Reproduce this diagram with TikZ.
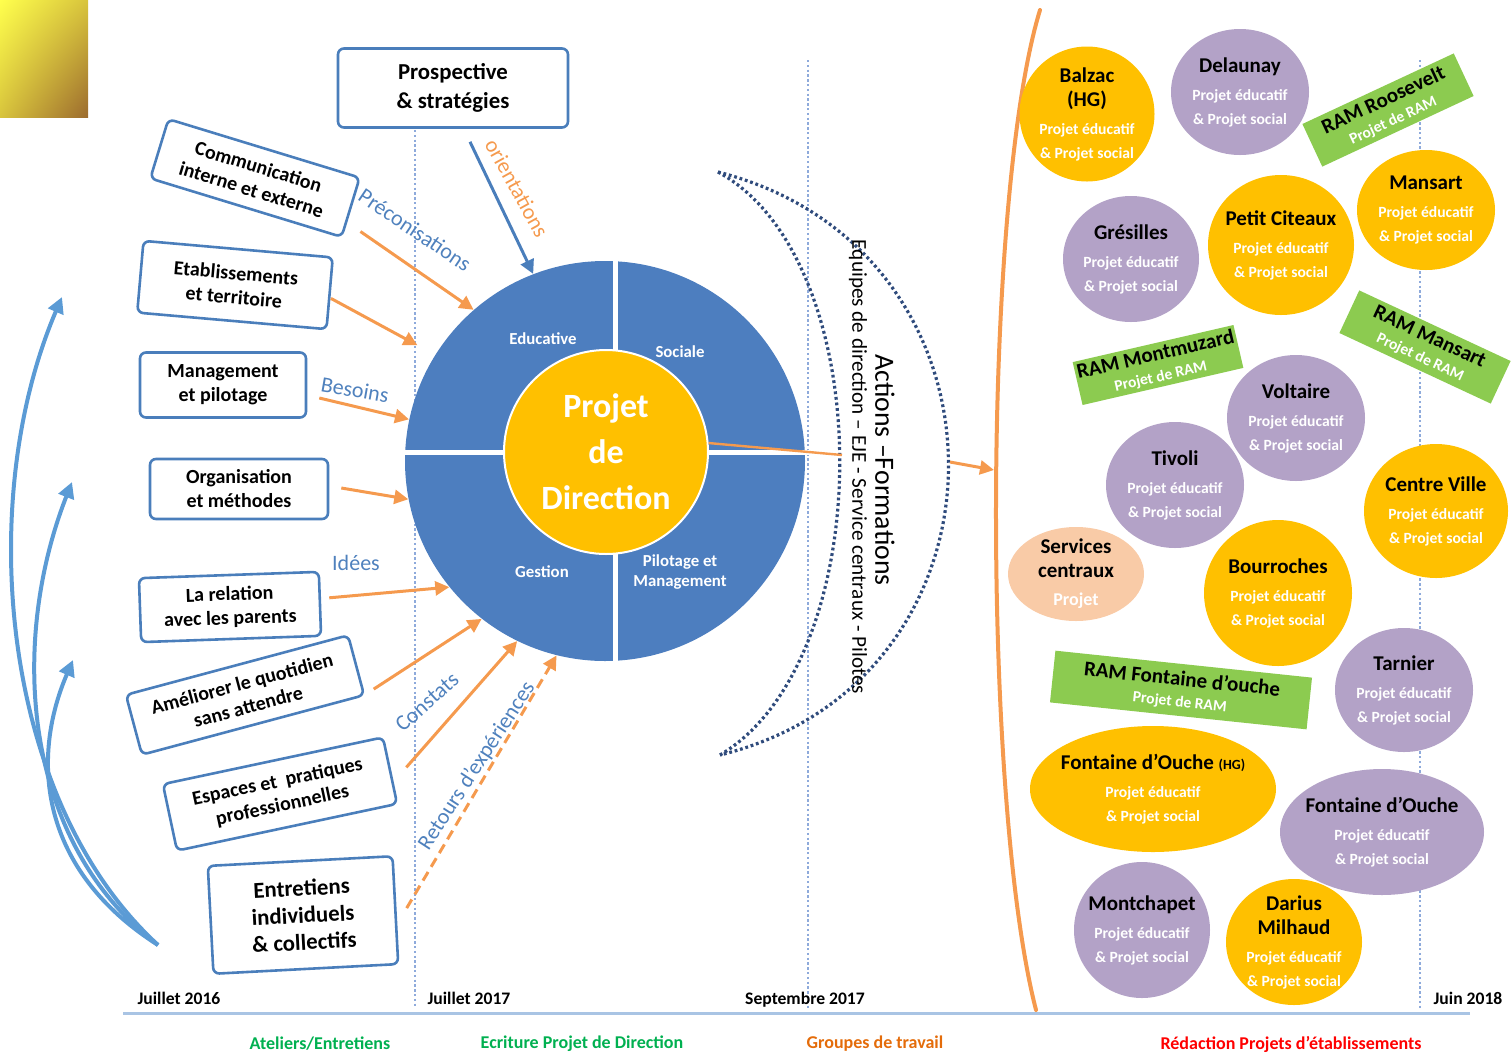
\documentclass[tikz,border=0pt]{standalone}
\usepackage{fontspec}
\setmainfont{Carlito}
\usepackage{xcolor}
\usepackage{tikz}
\usetikzlibrary{arrows.meta,shapes.geometric,shadings}

\definecolor{boxblue}{HTML}{4A7EBB}
\definecolor{discblue}{HTML}{4D7EBF}
\definecolor{coreyellow}{HTML}{FFC000}
\definecolor{lilac}{HTML}{B3A2C7}
\definecolor{peach}{HTML}{F9CBA7}
\definecolor{ramgreen}{HTML}{8CCB50}
\definecolor{floworange}{HTML}{F59A4E}
\definecolor{noteblue}{HTML}{4F81BD}
\definecolor{loopblue}{HTML}{5B9BD5}
\definecolor{guideblue}{HTML}{8EAADB}
\definecolor{arcnavy}{HTML}{2F4B7C}
\definecolor{tlblue}{HTML}{A9C4E4}
\definecolor{tlgreen}{HTML}{00B050}
\definecolor{tlorange}{HTML}{E46C0A}
\definecolor{tlred}{HTML}{FF0000}
\definecolor{cornerA}{HTML}{FFFF4D}
\definecolor{cornerB}{HTML}{D8C43C}
\definecolor{cornerC}{HTML}{9C6B2E}

\tikzset{
  theme/.style={draw=boxblue, line width=1.3pt, rounded corners=3pt, fill=white,
    align=center, inner sep=2pt, font=\bfseries\fontsize{10}{12}\selectfont},
  flow/.style={draw=floworange, line width=1.5pt, -{Triangle[length=7pt,width=7pt]}},
  note/.style={text=noteblue, font=\fontsize{11}{13}\selectfont},
  quarter/.style={text=white, align=center, font=\bfseries\fontsize{8.4}{10}\selectfont},
  site/.style={ellipse, inner sep=-8pt, align=center, font=\bfseries\fontsize{10.5}{12}\selectfont},
  ram/.style={fill=ramgreen, inner sep=0pt, align=center, font=\bfseries\fontsize{10.5}{10.5}\selectfont},
  loop/.style={draw=loopblue, line width=2pt, -{Triangle[length=8pt,width=8pt]}},
  guide/.style={draw=guideblue, line width=0.6pt, dash pattern=on 1.2pt off 1.2pt},
  arcdots/.style={draw=arcnavy, line width=1.6pt, dash pattern=on 1.4pt off 1.4pt},
  date/.style={anchor=base, font=\bfseries\fontsize{8.8}{10}\selectfont},
  phase/.style={font=\bfseries\fontsize{9}{11}\selectfont}
}

\newcommand{\pes}{\\[2pt]{\color{white}\fontsize{7.8}{12}\selectfont Projet éducatif}\\{\color{white}\fontsize{7.8}{12}\selectfont \& Projet social}}

\begin{document}
\begin{tikzpicture}[x=0.5pt, y=-0.5pt]
\useasboundingbox (0,0) rectangle (1511,1056);

% corner tile
\shade[upper left=cornerA, upper right=cornerB, lower left=cornerB, lower right=cornerC] (0,0) rectangle (88,117);

% time guides
\draw[guide] (415,130) -- (415,1008);
\draw[guide] (808,60) -- (808,1008);
\draw[guide] (1420,60) -- (1420,1008);

% themes
\node[theme, minimum width=115pt, minimum height=39.5pt, font=\bfseries\fontsize{11.4}{14.5}\selectfont] (prosp) at (453,88) {Prospective\\\& stratégies};
\node[theme, rotate=-17, minimum width=100pt, minimum height=31pt] (comm) at (255,178) {Communication\\interne et externe};
\node[theme, rotate=-5, minimum width=95pt, minimum height=36pt] (etab) at (235,285) {Etablissements\\et territoire};
\node[theme, minimum width=83pt, minimum height=32.5pt] (mgmt) at (223,385) {Management\\et pilotage};
\node[theme, minimum width=89pt, minimum height=30pt] (orga) at (239,489) {Organisation\\et méthodes};
\node[theme, rotate=2, minimum width=90pt, minimum height=32pt] (relation) at (230,607) {La relation\\avec les parents};
\node[theme, rotate=15, minimum width=115pt, minimum height=31pt] (amel) at (245,695) {Améliorer le quotidien\\sans attendre};
\node[theme, rotate=12, minimum width=112.5pt, minimum height=34pt] (espaces) at (280,794) {Espaces et~ pratiques\\professionnelles};
\node[theme, rotate=3, minimum width=92.5pt, minimum height=54pt, font=\bfseries\fontsize{11.4}{13.5}\selectfont] (entret) at (303,915) {Entretiens\\individuels\\\& collectifs};

% projet de direction
\node[circle, fill=discblue, minimum size=200pt, inner sep=0pt] (pd) at (605,461) {};
\draw[white, line width=2.5pt] ([xshift=5pt]pd.north) -- ([xshift=5pt]pd.south);
\draw[white, line width=2.5pt] (395,452) -- (815,452);
\node[circle, fill=coreyellow, draw=white, line width=1pt, minimum size=102pt, inner sep=0pt,
  text=white, align=center, font=\bfseries\fontsize{17}{23}\selectfont] (pdc) at (606,452) {Projet\\de\\Direction};
\node[quarter] (qedu) at (543,339) {Educative};
\node[quarter] (qsoc) at (680,352) {Sociale};
\node[quarter] (qges) at (542,572) {Gestion};
\node[quarter] (qpil) at (680,572) {Pilotage et\\Management};

% inputs
\draw[draw=boxblue, line width=1.5pt, -{Triangle[length=7pt,width=7pt]}] ([shift={(17,13)}]prosp.south) -- (pd.111);
\draw[flow] ([shift={(18,-7)}]comm.south east) -- (pd.131);
\draw[flow, shorten >=10pt] ([shift={(0,5)}]etab.east) -- (pd.148);
\draw[flow] ([shift={(12,13)}]mgmt.east) -- (pd.168);
\draw[flow] ([shift={(12,-1)}]orga.east) -- (pd.191);
\draw[flow] ([shift={(8,-6)}]relation.east) -- (pd.219);
\draw[flow] ([shift={(8,-7)}]amel.south east) -- (pd.232);
\draw[flow] ([shift={(15,-3)}]espaces.east) -- (pd.244);
\draw[flow, dash pattern=on 5pt off 3pt] ([shift={(10,-2)}]entret.east) -- (pd.256);

\node[note, text=floworange, rotate=-61] (orient) at (517,188) {orientations};
\node[note, rotate=-34] (precon) at (415,230) {Préconisations};
\node[note, rotate=-10] (besoins) at (355,390) {Besoins};
\node[note] (idees) at (356,563) {Idées};
\node[note, rotate=42] (constats) at (427,702) {Constats};
\node[note, rotate=57] (retours) at (477,766) {Retours d’expériences};

% actions - formations
\coordinate (arctop) at (718,172);
\coordinate (arcbot) at (720,755);
\coordinate (arcin) at (842,455);
\coordinate (arcout) at (950,462);
\draw[arcdots] (arctop) .. controls (1025,250) and (1025,680) .. (arcbot);
\draw[arcdots] (arctop) .. controls (880,260) and (880,660) .. (arcbot);
\node[rotate=-90, font=\fontsize{13.9}{15}\selectfont] (actions) at (885,470) {Actions –Formations};
\node[rotate=-90, font=\fontsize{10.6}{12}\selectfont] (equipes) at (858,467) {Equipes de direction – EJE - Service centraux - Pilotes};
\draw[floworange, line width=1.2pt] (pdc.5) -- (arcin);

% bracket
\draw[floworange, line width=2pt, line cap=round] (1040,10) .. controls (982,200) and (982,800) .. (1036,1010);
\coordinate (bracket) at (994,470);
\draw[flow] (arcout) -- (bracket);

% etablissements
\node[site, fill=coreyellow, minimum width=67.5pt, minimum height=67.5pt] (balzac) at (1087,114) {Balzac\\(HG)\pes};
\node[site, fill=lilac, minimum width=69pt, minimum height=63pt] (delaunay) at (1240,92) {Delaunay\pes};
\node[site, fill=coreyellow, minimum width=69pt, minimum height=60pt] (mansart) at (1426,210) {Mansart\pes};
\node[site, fill=lilac, minimum width=68pt, minimum height=63pt] (gresilles) at (1131,259) {Grésilles\pes};
\node[site, fill=coreyellow, minimum width=73pt, minimum height=70pt] (citeaux) at (1281,245) {Petit Citeaux\pes};
\node[site, fill=lilac, minimum width=69pt, minimum height=63pt] (voltaire) at (1296,418) {Voltaire\pes};
\node[site, fill=lilac, minimum width=69pt, minimum height=63pt] (tivoli) at (1175,485) {Tivoli\pes};
\node[site, fill=coreyellow, minimum width=72pt, minimum height=67pt] (centre) at (1436,511) {Centre Ville\pes};
\node[site, fill=peach, minimum width=68pt, minimum height=47pt] (services) at (1076,574) {Services\\centraux\\[2pt]{\color{white}\fontsize{9}{12}\selectfont Projet}};
\node[site, fill=coreyellow, minimum width=74pt, minimum height=73pt] (bourroches) at (1278,593) {Bourroches\pes};
\node[site, fill=lilac, minimum width=69pt, minimum height=62pt] (tarnier) at (1404,690) {Tarnier\pes};
\node[site, fill=coreyellow, minimum width=123pt, minimum height=63pt] (fdohg) at (1153,789) {Fontaine d’Ouche {\fontsize{7}{8}\selectfont (HG)}\pes};
\node[site, fill=lilac, minimum width=102pt, minimum height=63pt] (fdo) at (1382,832) {Fontaine d’Ouche\pes};
\node[site, fill=lilac, minimum width=68pt, minimum height=68pt] (montchapet) at (1142,930) {Montchapet\pes};
\node[site, fill=coreyellow, minimum width=68pt, minimum height=63pt] (darius) at (1294,942) {Darius\\Milhaud\pes};

\node[ram, rotate=25, minimum width=83.5pt, minimum height=23.5pt] (ramroos) at (1388,110) {RAM Roosevelt\\{\color{white}\fontsize{7.8}{9}\selectfont Projet de RAM}};
\node[ram, rotate=-25, minimum width=83.5pt, minimum height=23.5pt] (rammans) at (1425,347) {RAM Mansart\\{\color{white}\fontsize{7.8}{9}\selectfont Projet de RAM}};
\node[ram, rotate=13, minimum width=82.5pt, minimum height=22pt] (rammont) at (1158,365) {RAM Montmuzard\\{\color{white}\fontsize{7.8}{9}\selectfont Projet de RAM}};
\node[ram, rotate=-6, minimum width=129pt, minimum height=26pt] (ramfdo) at (1181,690) {RAM Fontaine d’ouche\\{\color{white}\fontsize{7.8}{9}\selectfont Projet de RAM}};

% loops
\coordinate (loopbase) at (158,945);
\coordinate (loopa) at (62,297);
\coordinate (loopb) at (72,482);
\coordinate (loopc) at (73,660);
\draw[loop] (loopbase) .. controls (0,800) and (-25,500) .. (loopa);
\draw[loop] (loopbase) .. controls (20,840) and (10,640) .. (loopb);
\draw[loop] (loopbase) .. controls (40,870) and (30,760) .. (loopc);

% timeline
\coordinate (tl0) at (123,1013);
\coordinate (tl1) at (1470,1013);
\draw[tlblue, line width=1.5pt] (tl0) -- (tl1);
\node[date] (d16) at (179,1004) {Juillet 2016};
\node[date] (d17) at (469,1004) {Juillet 2017};
\node[date] (s17) at (805,1004) {Septembre 2017};
\node[date] (j18) at (1468,1004) {Juin 2018};
\node[phase, text=tlgreen] (ph1) at (320,1044) {Ateliers/Entretiens};
\node[phase, text=tlgreen] (ph2) at (582,1044) {Ecriture Projet de Direction};
\node[phase, text=tlorange] (ph3) at (875,1044) {Groupes de travail};
\node[phase, text=tlred] (ph4) at (1291,1044) {Rédaction Projets d’établissements};
\end{tikzpicture}
\end{document}
